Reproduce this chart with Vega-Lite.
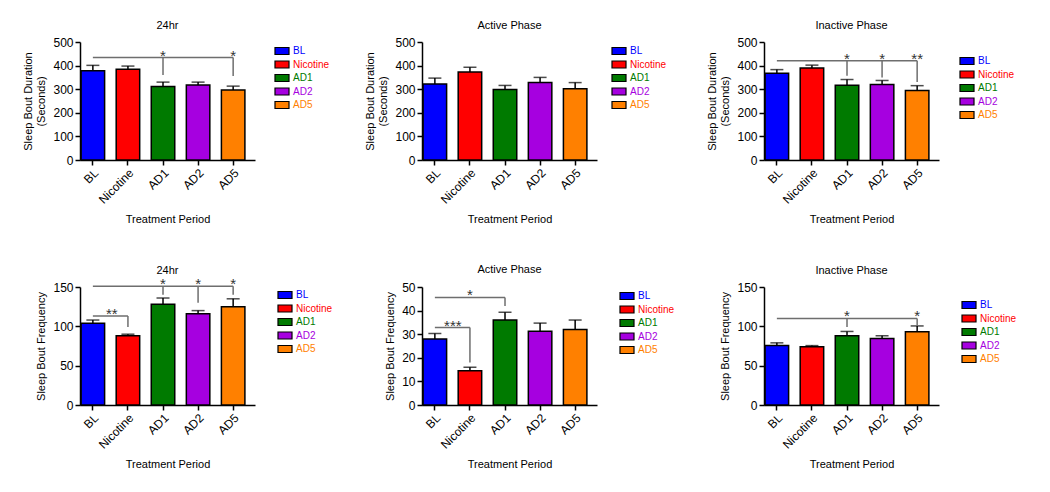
{
  "$schema": "https://vega.github.io/schema/vega-lite/v6.json",
  "background": "white",
  "padding": {"left": 22, "top": 20, "right": 5, "bottom": 5},
  "columns": 3,
  "spacing": {"row": 127, "column": 167},
  "bounds": "flush",
  "resolve": {"scale": {"fill": "independent", "x": "independent", "y": "independent"}, "legend": {"fill": "independent"}},
  "datasets": {
    "p1": [
      {"period": "BL", "mean": 378, "upper": 401},
      {"period": "Nicotine", "mean": 385, "upper": 398},
      {"period": "AD1", "mean": 311, "upper": 330},
      {"period": "AD2", "mean": 318, "upper": 330},
      {"period": "AD5", "mean": 297, "upper": 313}
    ],
    "p1_span": [{"period": "BL", "end": "AD5", "level": 434}],
    "p1_drop": [
      {"period": "AD1", "level": 434, "low": 360},
      {"period": "AD5", "level": 434, "low": 356}
    ],
    "p1_star": [
      {"period": "AD1", "level": 434, "label": "*"},
      {"period": "AD5", "level": 434, "label": "*"}
    ],
    "p2": [
      {"period": "BL", "mean": 322, "upper": 347},
      {"period": "Nicotine", "mean": 373, "upper": 393},
      {"period": "AD1", "mean": 299, "upper": 316},
      {"period": "AD2", "mean": 328, "upper": 350},
      {"period": "AD5", "mean": 302, "upper": 328}
    ],
    "p3": [
      {"period": "BL", "mean": 368, "upper": 383},
      {"period": "Nicotine", "mean": 390, "upper": 402},
      {"period": "AD1", "mean": 317, "upper": 341},
      {"period": "AD2", "mean": 320, "upper": 337},
      {"period": "AD5", "mean": 295, "upper": 315}
    ],
    "p3_span": [{"period": "BL", "end": "AD5", "level": 421}],
    "p3_drop": [
      {"period": "AD1", "level": 421, "low": 357},
      {"period": "AD2", "level": 421, "low": 350},
      {"period": "AD5", "level": 421, "low": 331}
    ],
    "p3_star": [
      {"period": "AD1", "level": 421, "label": "*"},
      {"period": "AD2", "level": 421, "label": "*"},
      {"period": "AD5", "level": 421, "label": "**"}
    ],
    "p4": [
      {"period": "BL", "mean": 104, "upper": 108},
      {"period": "Nicotine", "mean": 88, "upper": 90},
      {"period": "AD1", "mean": 128, "upper": 136},
      {"period": "AD2", "mean": 116, "upper": 120},
      {"period": "AD5", "mean": 125, "upper": 135}
    ],
    "p4_span": [
      {"period": "BL", "end": "AD5", "level": 151},
      {"period": "BL", "end": "Nicotine", "level": 113}
    ],
    "p4_drop": [
      {"period": "AD1", "level": 151, "low": 140},
      {"period": "AD2", "level": 151, "low": 130},
      {"period": "AD5", "level": 151, "low": 140},
      {"period": "Nicotine", "level": 113, "low": 99}
    ],
    "p4_star": [
      {"period": "AD1", "level": 151, "label": "*"},
      {"period": "AD2", "level": 151, "label": "*"},
      {"period": "AD5", "level": 151, "label": "*"}
    ],
    "p4_mid": [{"period": "BL", "level": 113, "label": "**"}],
    "p5": [
      {"period": "BL", "mean": 28, "upper": 30.3},
      {"period": "Nicotine", "mean": 14.5, "upper": 16},
      {"period": "AD1", "mean": 36, "upper": 39.3},
      {"period": "AD2", "mean": 31.2, "upper": 34.7},
      {"period": "AD5", "mean": 32, "upper": 36}
    ],
    "p5_span": [
      {"period": "BL", "end": "AD1", "level": 45.6},
      {"period": "BL", "end": "Nicotine", "level": 32.8}
    ],
    "p5_drop": [
      {"period": "AD1", "level": 45.6, "low": 42},
      {"period": "Nicotine", "level": 32.8, "low": 18}
    ],
    "p5_star": [{"period": "Nicotine", "level": 45.6, "label": "*"}],
    "p5_mid": [{"period": "BL", "level": 32.8, "label": "***"}],
    "p6": [
      {"period": "BL", "mean": 75.5, "upper": 79},
      {"period": "Nicotine", "mean": 74, "upper": 75.5},
      {"period": "AD1", "mean": 88, "upper": 93.5},
      {"period": "AD2", "mean": 84.5, "upper": 88},
      {"period": "AD5", "mean": 93, "upper": 100.5}
    ],
    "p6_span": [{"period": "BL", "end": "AD5", "level": 110}],
    "p6_drop": [
      {"period": "AD1", "level": 110, "low": 99},
      {"period": "AD5", "level": 110, "low": 101}
    ],
    "p6_star": [
      {"period": "AD1", "level": 110, "label": "*"},
      {"period": "AD5", "level": 110, "label": "*"}
    ]
  },
  "concat": [
    {
      "title": {"text": "24hr", "dy": 3},
      "width": 175, "height": 118,
      "layer": [
        {"data": {"name": "p1"}, "mark": {"type": "bar", "stroke": "black", "strokeWidth": 1.5},
         "encoding": {
           "x": {"field": "period", "type": "nominal", "sort": null, "scale": {"domain": ["BL", "Nicotine", "AD1", "AD2", "AD5"], "paddingInner": 0.33, "paddingOuter": 0.16, "align": 0.1}, "axis": {"title": "Treatment Period"}},
           "y": {"field": "mean", "type": "quantitative", "scale": {"domain": [0, 500], "nice": false}, "axis": {"title": ["Sleep Bout Duration", "(Seconds)"], "values": [0, 100, 200, 300, 400, 500], "tickCount": 20}},
           "fill": {"field": "period", "type": "nominal", "sort": null, "scale": {"domain": ["BL", "Nicotine", "AD1", "AD2", "AD5"], "range": ["#0000ff", "#ff0000", "#007a00", "#a600e0", "#ff8000"]},
             "legend": {"orient": "none", "legendX": 197, "legendY": 4, "encode": {"labels": {"update": {"fill": {"signal": "datum.value === 'BL' ? '#0000ff' : datum.value === 'Nicotine' ? '#ff0000' : datum.value === 'AD1' ? '#007a00' : datum.value === 'AD2' ? '#a600e0' : '#ff8000'"}}}, "symbols": {"update": {"stroke": {"value": "black"}, "strokeWidth": {"value": 1.2}}}}}}
         }},
        {"data": {"name": "p1"}, "mark": {"type": "rule", "color": "black", "strokeWidth": 1.5},
         "encoding": {"x": {"field": "period", "type": "nominal", "sort": null}, "y": {"field": "mean", "type": "quantitative"}, "y2": {"field": "upper"}}},
        {"data": {"name": "p1"}, "mark": {"type": "tick", "color": "black", "thickness": 1.5, "size": 13},
         "encoding": {"x": {"field": "period", "type": "nominal", "sort": null}, "y": {"field": "upper", "type": "quantitative"}}},
        {"data": {"name": "p1_span"}, "mark": {"type": "rule", "color": "#6e6e6e", "strokeWidth": 1.5},
         "encoding": {"x": {"field": "period", "type": "nominal", "sort": null}, "x2": {"field": "end"}, "y": {"field": "level", "type": "quantitative"}}},
        {"data": {"name": "p1_drop"}, "mark": {"type": "rule", "color": "#6e6e6e", "strokeWidth": 1.5},
         "encoding": {"x": {"field": "period", "type": "nominal", "sort": null}, "y": {"field": "level", "type": "quantitative"}, "y2": {"field": "low"}}},
        {"data": {"name": "p1_star"}, "mark": {"type": "text", "color": "#333333", "fontSize": 15, "baseline": "alphabetic", "dy": 3},
         "encoding": {"x": {"field": "period", "type": "nominal", "sort": null}, "y": {"field": "level", "type": "quantitative"}, "text": {"field": "label"}}}
      ]
    },
    {
      "title": {"text": "Active Phase", "dy": 3},
      "width": 175, "height": 118,
      "layer": [
        {"data": {"name": "p2"}, "mark": {"type": "bar", "stroke": "black", "strokeWidth": 1.5},
         "encoding": {
           "x": {"field": "period", "type": "nominal", "sort": null, "scale": {"domain": ["BL", "Nicotine", "AD1", "AD2", "AD5"], "paddingInner": 0.33, "paddingOuter": 0.16, "align": 0.1}, "axis": {"title": "Treatment Period"}},
           "y": {"field": "mean", "type": "quantitative", "scale": {"domain": [0, 500], "nice": false}, "axis": {"title": ["Sleep Bout Duration", "(Seconds)"], "values": [0, 100, 200, 300, 400, 500], "tickCount": 20}},
           "fill": {"field": "period", "type": "nominal", "sort": null, "scale": {"domain": ["BL", "Nicotine", "AD1", "AD2", "AD5"], "range": ["#0000ff", "#ff0000", "#007a00", "#a600e0", "#ff8000"]},
             "legend": {"orient": "none", "legendX": 192, "legendY": 4, "encode": {"labels": {"update": {"fill": {"signal": "datum.value === 'BL' ? '#0000ff' : datum.value === 'Nicotine' ? '#ff0000' : datum.value === 'AD1' ? '#007a00' : datum.value === 'AD2' ? '#a600e0' : '#ff8000'"}}}, "symbols": {"update": {"stroke": {"value": "black"}, "strokeWidth": {"value": 1.2}}}}}}
         }},
        {"data": {"name": "p2"}, "mark": {"type": "rule", "color": "black", "strokeWidth": 1.5},
         "encoding": {"x": {"field": "period", "type": "nominal", "sort": null}, "y": {"field": "mean", "type": "quantitative"}, "y2": {"field": "upper"}}},
        {"data": {"name": "p2"}, "mark": {"type": "tick", "color": "black", "thickness": 1.5, "size": 13},
         "encoding": {"x": {"field": "period", "type": "nominal", "sort": null}, "y": {"field": "upper", "type": "quantitative"}}}
      ]
    },
    {
      "title": {"text": "Inactive Phase", "dy": 3},
      "width": 175, "height": 118,
      "layer": [
        {"data": {"name": "p3"}, "mark": {"type": "bar", "stroke": "black", "strokeWidth": 1.5},
         "encoding": {
           "x": {"field": "period", "type": "nominal", "sort": null, "scale": {"domain": ["BL", "Nicotine", "AD1", "AD2", "AD5"], "paddingInner": 0.33, "paddingOuter": 0.16, "align": 0.1}, "axis": {"title": "Treatment Period"}},
           "y": {"field": "mean", "type": "quantitative", "scale": {"domain": [0, 500], "nice": false}, "axis": {"title": ["Sleep Bout Duration", "(Seconds)"], "values": [0, 100, 200, 300, 400, 500], "tickCount": 20}},
           "fill": {"field": "period", "type": "nominal", "sort": null, "scale": {"domain": ["BL", "Nicotine", "AD1", "AD2", "AD5"], "range": ["#0000ff", "#ff0000", "#007a00", "#a600e0", "#ff8000"]},
             "legend": {"orient": "none", "legendX": 198, "legendY": 14, "encode": {"labels": {"update": {"fill": {"signal": "datum.value === 'BL' ? '#0000ff' : datum.value === 'Nicotine' ? '#ff0000' : datum.value === 'AD1' ? '#007a00' : datum.value === 'AD2' ? '#a600e0' : '#ff8000'"}}}, "symbols": {"update": {"stroke": {"value": "black"}, "strokeWidth": {"value": 1.2}}}}}}
         }},
        {"data": {"name": "p3"}, "mark": {"type": "rule", "color": "black", "strokeWidth": 1.5},
         "encoding": {"x": {"field": "period", "type": "nominal", "sort": null}, "y": {"field": "mean", "type": "quantitative"}, "y2": {"field": "upper"}}},
        {"data": {"name": "p3"}, "mark": {"type": "tick", "color": "black", "thickness": 1.5, "size": 13},
         "encoding": {"x": {"field": "period", "type": "nominal", "sort": null}, "y": {"field": "upper", "type": "quantitative"}}},
        {"data": {"name": "p3_span"}, "mark": {"type": "rule", "color": "#6e6e6e", "strokeWidth": 1.5},
         "encoding": {"x": {"field": "period", "type": "nominal", "sort": null}, "x2": {"field": "end"}, "y": {"field": "level", "type": "quantitative"}}},
        {"data": {"name": "p3_drop"}, "mark": {"type": "rule", "color": "#6e6e6e", "strokeWidth": 1.5},
         "encoding": {"x": {"field": "period", "type": "nominal", "sort": null}, "y": {"field": "level", "type": "quantitative"}, "y2": {"field": "low"}}},
        {"data": {"name": "p3_star"}, "mark": {"type": "text", "color": "#333333", "fontSize": 15, "baseline": "alphabetic", "dy": 3},
         "encoding": {"x": {"field": "period", "type": "nominal", "sort": null}, "y": {"field": "level", "type": "quantitative"}, "text": {"field": "label"}}}
      ]
    },
    {
      "title": {"text": "24hr", "dy": 7},
      "width": 175, "height": 118,
      "layer": [
        {"data": {"name": "p4"}, "mark": {"type": "bar", "stroke": "black", "strokeWidth": 1.5},
         "encoding": {
           "x": {"field": "period", "type": "nominal", "sort": null, "scale": {"domain": ["BL", "Nicotine", "AD1", "AD2", "AD5"], "paddingInner": 0.33, "paddingOuter": 0.16, "align": 0.1}, "axis": {"title": "Treatment Period"}},
           "y": {"field": "mean", "type": "quantitative", "scale": {"domain": [0, 150], "nice": false}, "axis": {"title": "Sleep Bout Frequency", "values": [0, 50, 100, 150], "tickCount": 20}},
           "fill": {"field": "period", "type": "nominal", "sort": null, "scale": {"domain": ["BL", "Nicotine", "AD1", "AD2", "AD5"], "range": ["#0000ff", "#ff0000", "#007a00", "#a600e0", "#ff8000"]},
             "legend": {"orient": "none", "legendX": 200, "legendY": 3, "encode": {"labels": {"update": {"fill": {"signal": "datum.value === 'BL' ? '#0000ff' : datum.value === 'Nicotine' ? '#ff0000' : datum.value === 'AD1' ? '#007a00' : datum.value === 'AD2' ? '#a600e0' : '#ff8000'"}}}, "symbols": {"update": {"stroke": {"value": "black"}, "strokeWidth": {"value": 1.2}}}}}}
         }},
        {"data": {"name": "p4"}, "mark": {"type": "rule", "color": "black", "strokeWidth": 1.5},
         "encoding": {"x": {"field": "period", "type": "nominal", "sort": null}, "y": {"field": "mean", "type": "quantitative"}, "y2": {"field": "upper"}}},
        {"data": {"name": "p4"}, "mark": {"type": "tick", "color": "black", "thickness": 1.5, "size": 13},
         "encoding": {"x": {"field": "period", "type": "nominal", "sort": null}, "y": {"field": "upper", "type": "quantitative"}}},
        {"data": {"name": "p4_span"}, "mark": {"type": "rule", "color": "#6e6e6e", "strokeWidth": 1.5},
         "encoding": {"x": {"field": "period", "type": "nominal", "sort": null}, "x2": {"field": "end"}, "y": {"field": "level", "type": "quantitative"}}},
        {"data": {"name": "p4_drop"}, "mark": {"type": "rule", "color": "#6e6e6e", "strokeWidth": 1.5},
         "encoding": {"x": {"field": "period", "type": "nominal", "sort": null}, "y": {"field": "level", "type": "quantitative"}, "y2": {"field": "low"}}},
        {"data": {"name": "p4_star"}, "mark": {"type": "text", "color": "#333333", "fontSize": 15, "baseline": "alphabetic", "dy": 3},
         "encoding": {"x": {"field": "period", "type": "nominal", "sort": null}, "y": {"field": "level", "type": "quantitative"}, "text": {"field": "label"}}},
        {"data": {"name": "p4_mid"}, "mark": {"type": "text", "color": "#333333", "fontSize": 15, "baseline": "alphabetic", "dy": 3, "dx": 19},
         "encoding": {"x": {"field": "period", "type": "nominal", "sort": null}, "y": {"field": "level", "type": "quantitative"}, "text": {"field": "label"}}}
      ]
    },
    {
      "title": {"text": "Active Phase", "dy": 2},
      "width": 175, "height": 118,
      "layer": [
        {"data": {"name": "p5"}, "mark": {"type": "bar", "stroke": "black", "strokeWidth": 1.5},
         "encoding": {
           "x": {"field": "period", "type": "nominal", "sort": null, "scale": {"domain": ["BL", "Nicotine", "AD1", "AD2", "AD5"], "paddingInner": 0.33, "paddingOuter": 0.16, "align": 0.1}, "axis": {"title": "Treatment Period"}},
           "y": {"field": "mean", "type": "quantitative", "scale": {"domain": [0, 50], "nice": false}, "axis": {"title": "Sleep Bout Frequency", "values": [0, 10, 20, 30, 40, 50], "tickCount": 20}},
           "fill": {"field": "period", "type": "nominal", "sort": null, "scale": {"domain": ["BL", "Nicotine", "AD1", "AD2", "AD5"], "range": ["#0000ff", "#ff0000", "#007a00", "#a600e0", "#ff8000"]},
             "legend": {"orient": "none", "legendX": 200, "legendY": 4, "encode": {"labels": {"update": {"fill": {"signal": "datum.value === 'BL' ? '#0000ff' : datum.value === 'Nicotine' ? '#ff0000' : datum.value === 'AD1' ? '#007a00' : datum.value === 'AD2' ? '#a600e0' : '#ff8000'"}}}, "symbols": {"update": {"stroke": {"value": "black"}, "strokeWidth": {"value": 1.2}}}}}}
         }},
        {"data": {"name": "p5"}, "mark": {"type": "rule", "color": "black", "strokeWidth": 1.5},
         "encoding": {"x": {"field": "period", "type": "nominal", "sort": null}, "y": {"field": "mean", "type": "quantitative"}, "y2": {"field": "upper"}}},
        {"data": {"name": "p5"}, "mark": {"type": "tick", "color": "black", "thickness": 1.5, "size": 13},
         "encoding": {"x": {"field": "period", "type": "nominal", "sort": null}, "y": {"field": "upper", "type": "quantitative"}}},
        {"data": {"name": "p5_span"}, "mark": {"type": "rule", "color": "#6e6e6e", "strokeWidth": 1.5},
         "encoding": {"x": {"field": "period", "type": "nominal", "sort": null}, "x2": {"field": "end"}, "y": {"field": "level", "type": "quantitative"}}},
        {"data": {"name": "p5_drop"}, "mark": {"type": "rule", "color": "#6e6e6e", "strokeWidth": 1.5},
         "encoding": {"x": {"field": "period", "type": "nominal", "sort": null}, "y": {"field": "level", "type": "quantitative"}, "y2": {"field": "low"}}},
        {"data": {"name": "p5_star"}, "mark": {"type": "text", "color": "#333333", "fontSize": 15, "baseline": "alphabetic", "dy": 3},
         "encoding": {"x": {"field": "period", "type": "nominal", "sort": null}, "y": {"field": "level", "type": "quantitative"}, "text": {"field": "label"}}},
        {"data": {"name": "p5_mid"}, "mark": {"type": "text", "color": "#333333", "fontSize": 15, "baseline": "alphabetic", "dy": 3, "dx": 18},
         "encoding": {"x": {"field": "period", "type": "nominal", "sort": null}, "y": {"field": "level", "type": "quantitative"}, "text": {"field": "label"}}}
      ]
    },
    {
      "title": {"text": "Inactive Phase", "dy": 3},
      "width": 175, "height": 118,
      "layer": [
        {"data": {"name": "p6"}, "mark": {"type": "bar", "stroke": "black", "strokeWidth": 1.5},
         "encoding": {
           "x": {"field": "period", "type": "nominal", "sort": null, "scale": {"domain": ["BL", "Nicotine", "AD1", "AD2", "AD5"], "paddingInner": 0.33, "paddingOuter": 0.16, "align": 0.1}, "axis": {"title": "Treatment Period"}},
           "y": {"field": "mean", "type": "quantitative", "scale": {"domain": [0, 150], "nice": false}, "axis": {"title": "Sleep Bout Frequency", "values": [0, 50, 100, 150], "tickCount": 20}},
           "fill": {"field": "period", "type": "nominal", "sort": null, "scale": {"domain": ["BL", "Nicotine", "AD1", "AD2", "AD5"], "range": ["#0000ff", "#ff0000", "#007a00", "#a600e0", "#ff8000"]},
             "legend": {"orient": "none", "legendX": 200, "legendY": 13, "encode": {"labels": {"update": {"fill": {"signal": "datum.value === 'BL' ? '#0000ff' : datum.value === 'Nicotine' ? '#ff0000' : datum.value === 'AD1' ? '#007a00' : datum.value === 'AD2' ? '#a600e0' : '#ff8000'"}}}, "symbols": {"update": {"stroke": {"value": "black"}, "strokeWidth": {"value": 1.2}}}}}}
         }},
        {"data": {"name": "p6"}, "mark": {"type": "rule", "color": "black", "strokeWidth": 1.5},
         "encoding": {"x": {"field": "period", "type": "nominal", "sort": null}, "y": {"field": "mean", "type": "quantitative"}, "y2": {"field": "upper"}}},
        {"data": {"name": "p6"}, "mark": {"type": "tick", "color": "black", "thickness": 1.5, "size": 13},
         "encoding": {"x": {"field": "period", "type": "nominal", "sort": null}, "y": {"field": "upper", "type": "quantitative"}}},
        {"data": {"name": "p6_span"}, "mark": {"type": "rule", "color": "#6e6e6e", "strokeWidth": 1.5},
         "encoding": {"x": {"field": "period", "type": "nominal", "sort": null}, "x2": {"field": "end"}, "y": {"field": "level", "type": "quantitative"}}},
        {"data": {"name": "p6_drop"}, "mark": {"type": "rule", "color": "#6e6e6e", "strokeWidth": 1.5},
         "encoding": {"x": {"field": "period", "type": "nominal", "sort": null}, "y": {"field": "level", "type": "quantitative"}, "y2": {"field": "low"}}},
        {"data": {"name": "p6_star"}, "mark": {"type": "text", "color": "#333333", "fontSize": 15, "baseline": "alphabetic", "dy": 3},
         "encoding": {"x": {"field": "period", "type": "nominal", "sort": null}, "y": {"field": "level", "type": "quantitative"}, "text": {"field": "label"}}}
      ]
    }
  ],
  "config": {
    "font": "Liberation Sans",
    "view": {"stroke": null},
    "axis": {"domainColor": "black", "domainWidth": 1.5, "tickColor": "black", "tickWidth": 1.5, "tickSize": 5, "labelColor": "black", "labelFontSize": 12, "labelPadding": 2, "labelOverlap": false, "titleFontSize": 11, "titleFontWeight": "normal", "titleColor": "black", "grid": false},
    "axisX": {"labelAngle": -45, "titlePadding": 8},
    "axisY": {"titlePadding": 6},
    "title": {"fontSize": 11, "fontWeight": "normal", "frame": "group", "offset": 8, "color": "black"},
    "legend": {"title": null, "symbolType": "M-2,-1H2V1H-2Z", "symbolSize": 49, "symbolOpacity": 1, "symbolStrokeColor": "black", "symbolStrokeWidth": 1.2, "labelFontSize": 10, "labelOffset": 6, "rowPadding": 1.5, "padding": 0}
  }
}
